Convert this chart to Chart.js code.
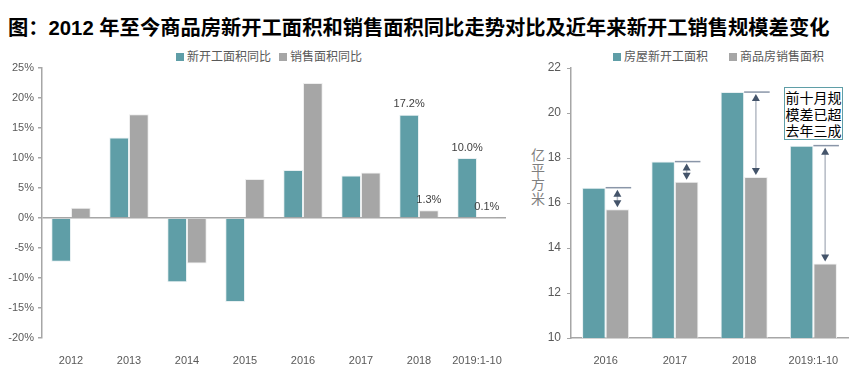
<!DOCTYPE html>
<html>
<head>
<meta charset="utf-8">
<script src="https://cdn.jsdelivr.net/npm/chart.js@4.4.0/dist/chart.umd.min.js"></script>
<style>
  body { margin: 0; background: #fff; font-family: "Noto Sans CJK SC", sans-serif; }
  #wrap { position: relative; width: 863px; height: 370px; overflow: hidden; }
  #title { position: absolute; left: 8px; top: 11px; font-size: 20.3px; font-weight: bold; color: #000; white-space: nowrap; font-family: "Liberation Sans", "Noto Sans CJK SC", sans-serif; }
  .legend { position: absolute; top: 47px; font-size: 12px; color: #595959; white-space: nowrap; }
  .legend span.sw { display: inline-block; width: 8px; height: 8px; margin-right: 3px; vertical-align: 0px; }
  #unit { position: absolute; left: 531px; top: 147px; width: 14px; font-size: 14px; line-height: 14.5px; color: #7f7f7f; }
  #note { position: absolute; left: 784px; top: 87px; width: 57px; padding: 1px 0 0 0; border: 1.5px solid #5f9ea7; font-size: 14px; line-height: 16.6px; color: #000; text-align: center; background: #fff; }
  canvas { position: absolute; top: 0; }
</style>
</head>
<body>
<div id="wrap">
  <div id="title">图：2012 年至今商品房新开工面积和销售面积同比走势对比及近年来新开工销售规模差变化</div>
  <div class="legend" style="left:176px"><span class="sw" style="background:#5f9ea7"></span>新开工面积同比</div>
  <div class="legend" style="left:279px"><span class="sw" style="background:#a6a6a6"></span>销售面积同比</div>
  <div class="legend" style="left:613px"><span class="sw" style="background:#5f9ea7"></span>房屋新开工面积</div>
  <div class="legend" style="left:729px"><span class="sw" style="background:#a6a6a6"></span>商品房销售面积</div>
  <div id="unit">亿平方米</div>
  <canvas id="left" width="530" height="370" style="left:0"></canvas>
  <canvas id="right" width="333" height="370" style="left:530px"></canvas>
  <div id="note">前十月规<br>模差已超<br>去年三成</div>
</div>
<script>
// 左图：同比（%）
const yoyYears = ['2012', '2013', '2014', '2015', '2016', '2017', '2018', '2019:1-10'];
const startYoY = [-7.3, 13.4, -10.7, -14.0, 8.0, 7.1, 17.2, 10.0];
const salesYoY = [1.7, 17.3, -7.6, 6.5, 22.5, 7.6, 1.3, 0.1];
const labelledIdx = [6, 7];

// 右图：规模（亿平方米）
const areaYears = ['2016', '2017', '2018', '2019:1-10'];
const startArea = [16.68, 17.84, 20.93, 18.55];
const salesArea = [15.72, 16.95, 17.16, 13.31];

const teal = '#5f9ea7';
const grey = '#a6a6a6';
const tickFont = { family: 'Liberation Sans', size: 11 };

// 柱顶百分比标签
const valueLabels = {
    id: 'valueLabels',
    afterDatasetsDraw(chart) {
        const c = chart.ctx;
        c.save();
        c.font = '11px "Liberation Sans"';
        c.fillStyle = '#404040';
        c.textAlign = 'center';
        c.textBaseline = 'bottom';
        chart.data.datasets.forEach((ds, di) => {
            const meta = chart.getDatasetMeta(di);
            labelledIdx.forEach(i => {
                const bar = meta.data[i];
                c.fillText(ds.data[i].toFixed(1) + '%', bar.x, Math.min(bar.y, bar.base) - 5);
            });
        });
        c.restore();
    }
};

// 规模差箭头
function arrowHead(c, x, y, dir) {
    c.beginPath();
    c.moveTo(x, y);
    c.lineTo(x - 4, y + dir * 7);
    c.lineTo(x + 4, y + dir * 7);
    c.closePath();
    c.fill();
}

const gapArrows = {
    id: 'gapArrows',
    afterDatasetsDraw(chart) {
        const c = chart.ctx;
        const yScale = chart.scales.y;
        const greyMeta = chart.getDatasetMeta(1);
        c.save();
        startArea.forEach((v, i) => {
            const bar = greyMeta.data[i];
            const yTop = yScale.getPixelForValue(v);
            const yBot = yScale.getPixelForValue(salesArea[i]);
            // 水平参考线
            c.strokeStyle = '#8a96a8';
            c.lineWidth = 1.5;
            c.beginPath();
            c.moveTo(bar.x - bar.width / 2, yTop);
            c.lineTo(bar.x + bar.width / 2 + 2, yTop);
            c.stroke();
            // 竖线
            c.strokeStyle = '#b4bac4';
            c.lineWidth = 1.5;
            c.beginPath();
            c.moveTo(bar.x, yTop + 4);
            c.lineTo(bar.x, yBot - 4);
            c.stroke();
            c.fillStyle = '#44546a';
            arrowHead(c, bar.x, yTop + 2, 1);
            arrowHead(c, bar.x, yBot - 2, -1);
        });
        c.restore();
    }
};

new Chart(document.getElementById('left'), {
    type: 'bar',
    data: {
        labels: yoyYears,
        datasets: [
            { label: '新开工面积同比', data: startYoY, backgroundColor: teal, borderColor: '#e8f0f2', borderWidth: 1 },
            { label: '销售面积同比', data: salesYoY, backgroundColor: grey, borderColor: '#eeeeee', borderWidth: 1 }
        ]
    },
    options: {
        responsive: false,
        animation: false,
        layout: { padding: { top: 68, right: 24, left: 0, bottom: 0 } },
        plugins: { legend: { display: false }, tooltip: { enabled: false } },
        datasets: { bar: { categoryPercentage: 0.68, barPercentage: 1 } },
        scales: {
            x: {
                grid: { display: false },
                border: { display: false },
                ticks: { color: '#595959', font: tickFont, padding: 8, maxRotation: 0 },
                afterFit(s) { s.height = 32; }
            },
            y: {
                min: -20, max: 25,
                ticks: { stepSize: 5, color: '#595959', font: tickFont, padding: 4, callback: v => v + '%' },
                grid: {
                    drawOnChartArea: true,
                    color: ctx => ctx.tick && ctx.tick.value === 0 ? '#a6a6a6' : 'rgba(0,0,0,0)',
                    lineWidth: 1.5,
                    tickColor: '#a6a6a6',
                    tickLength: 4
                },
                border: { display: true, color: '#a6a6a6', width: 1.5 },
                afterFit(s) { s.width = 42; }
            }
        }
    },
    plugins: [valueLabels]
});

new Chart(document.getElementById('right'), {
    type: 'bar',
    data: {
        labels: areaYears,
        datasets: [
            { label: '房屋新开工面积', data: startArea, backgroundColor: teal, borderColor: '#e8f0f2', borderWidth: 1 },
            { label: '商品房销售面积', data: salesArea, backgroundColor: grey, borderColor: '#eeeeee', borderWidth: 1 }
        ]
    },
    options: {
        responsive: false,
        animation: false,
        layout: { padding: { top: 68, right: 15, left: 0, bottom: 0 } },
        plugins: { legend: { display: false }, tooltip: { enabled: false } },
        datasets: { bar: { categoryPercentage: 0.68, barPercentage: 1 } },
        scales: {
            x: {
                grid: { display: false },
                border: { display: true, color: '#a6a6a6', width: 1.5 },
                ticks: { color: '#595959', font: tickFont, padding: 8, maxRotation: 0 },
                afterFit(s) { s.height = 32; }
            },
            y: {
                min: 10, max: 22,
                ticks: { stepSize: 2, color: '#595959', font: { family: 'Liberation Sans', size: 12 }, padding: 6 },
                grid: { drawOnChartArea: false, tickColor: '#a6a6a6', tickLength: 4 },
                border: { display: true, color: '#a6a6a6', width: 1.5 },
                afterFit(s) { s.width = 41; }
            }
        }
    },
    plugins: [gapArrows]
});
</script>
</body>
</html>
